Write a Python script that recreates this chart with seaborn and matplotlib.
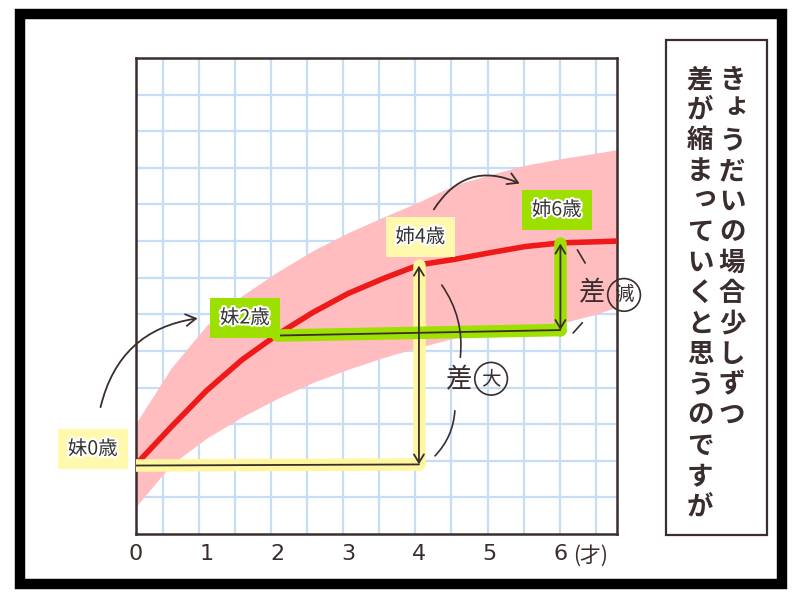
import numpy as np
import matplotlib.pyplot as plt
import matplotlib.patheffects as pe
from matplotlib.patches import Rectangle
import seaborn as sns

sns.set_theme(style="white")
plt.rcParams['font.family'] = ['DejaVu Sans', 'Noto Sans CJK JP']
JP = ['Noto Sans CJK JP', 'DejaVu Sans']

# growth band (age in years, height in grid squares)
ages = [0, 0.5, 1, 1.5, 2, 2.5, 3, 3.5, 4, 4.5, 5, 5.5, 6, 6.5, 6.8]
height_mid = [1.9, 2.93, 3.92, 4.76, 5.45, 6.05, 6.57, 6.98, 7.35, 7.5, 7.68, 7.85, 7.95, 7.98, 8.0]
band_upper = [3.03, 4.54, 5.70, 6.51, 7.16, 7.74, 8.23, 8.66, 9.07, 9.53, 9.81, 10.07, 10.25, 10.4, 10.5]
band_lower = [0.75, 1.9, 2.62, 3.2, 3.7, 4.14, 4.5, 4.82, 5.1, 5.35, 5.5, 5.63, 5.75, 6.0, 6.2]

tick_ages = [0, 1, 2, 3, 4, 5, 6]
tick_labels = ['0', '1', '2', '3', '4', '5', '6']
unit_label = '(才)'

point_labels = ['妹0歳', '妹2歳', '姉4歳', '姉6歳']
point_colors = ['#FFF9AE', '#9DE000', '#FFF9AE', '#9DE000']

caption_right = 'きょうだいの場合少しずつ'
caption_left = '差が縮まっていくと思うのですが'

INK = '#3a2d2d'
YELLOW = '#FFF7A0'
GREEN = '#9EE000'

fig = plt.figure(figsize=(8, 6), dpi=100)
ax = fig.add_axes([136 / 800, 66 / 600, 481 / 800, 476 / 600])

# notebook grid
for gx in np.arange(0.38, 6.8, 0.51):
    ax.axvline(gx, color='#C6DDF3', lw=1.6, zorder=0)
for gy in range(1, 13):
    ax.axhline(gy, color='#C6DDF3', lw=1.6, zorder=0)

ax.fill_between(ages, band_lower, band_upper, color='#FFBDC0', lw=0, zorder=1)
sns.lineplot(x=ages, y=height_mid, color='#EE1A1A', lw=4, ax=ax, zorder=3)

h = dict(zip(ages, height_mid))

# comparison arrows: younger at 0 vs older at 4, younger at 2 vs older at 6
pairs = [(0, 4, YELLOW, 0.0), (2, 6, GREEN, 0.12)]
for a0, a1, col, rise in pairs:
    y0 = h[a0] - 0.03
    y1 = h[a0] + rise
    ax.plot([a0, a1], [y0, y1], color=col, lw=9, solid_capstyle='round', zorder=4)
    ax.plot([a1, a1], [y1, h[a1]], color=col, lw=9, solid_capstyle='round', zorder=4)
    ax.plot([a0, a1], [y0, y1], color=INK, lw=1.3, zorder=5)
    ax.annotate('', xy=(a1, h[a1] - 0.02), xytext=(a1, y1),
                arrowprops=dict(arrowstyle='<->,head_length=0.5,head_width=0.3',
                                color=INK, lw=1.3, shrinkA=0, shrinkB=0), zorder=5)

# age labels
label_pos = [(-0.61, 2.32), (1.54, 5.9), (4.02, 8.11), (5.95, 8.85)]
for txt, (lx, ly), fc in zip(point_labels, label_pos, point_colors):
    ax.text(lx, ly, txt, family=JP, fontsize=14, color='#333', ha='center', va='center',
            zorder=7, clip_on=False,
            bbox=dict(boxstyle='square,pad=0.5', fc=fc, ec='none'),
            path_effects=[pe.withStroke(linewidth=3, foreground='white')])

# hand-drawn style curved arrows between labels
ax.annotate('', xy=(0.91, 5.9), xytext=(-0.51, 3.39), annotation_clip=False,
            arrowprops=dict(arrowstyle='->,head_length=0.6,head_width=0.35', color=INK,
                            lw=1.3, connectionstyle='arc3,rad=-0.35'), zorder=6)
ax.annotate('', xy=(5.46, 9.54), xytext=(4.19, 8.8), annotation_clip=False,
            arrowprops=dict(arrowstyle='->,head_length=0.6,head_width=0.35', color=INK,
                            lw=1.3, connectionstyle='arc3,rad=-0.45'), zorder=6)

# difference notes
ax.text(4.57, 4.21, '差', family=JP, fontsize=19, color=INK, ha='center', va='center', zorder=6)
ax.text(5.02, 4.24, '大', family=JP, fontsize=14, color=INK, ha='center', va='center', zorder=6,
        bbox=dict(boxstyle='circle,pad=0.3', fc='none', ec=INK, lw=1.2))
ax.annotate('', xy=(4.3, 6.86), xytext=(4.58, 4.75),
            arrowprops=dict(arrowstyle='-', color=INK, lw=1.2, connectionstyle='arc3,rad=0.2'), zorder=6)
ax.annotate('', xy=(4.2, 2.08), xytext=(4.51, 3.44),
            arrowprops=dict(arrowstyle='-', color=INK, lw=1.2, connectionstyle='arc3,rad=-0.2'), zorder=6)

ax.text(6.45, 6.6, '差', family=JP, fontsize=19, color=INK, ha='center', va='center',
        zorder=6, clip_on=False)
ax.text(6.9, 6.53, '減', family=JP, fontsize=14, color=INK, ha='center', va='center',
        zorder=6, clip_on=False,
        bbox=dict(boxstyle='circle,pad=0.3', fc='none', ec=INK, lw=1.2))
ax.plot([6.24, 6.35], [7.76, 7.4], color=INK, lw=1.2, zorder=6)
ax.plot([6.31, 6.18], [5.77, 5.49], color=INK, lw=1.2, zorder=6)

ax.set_xlim(0, 6.8)
ax.set_ylim(0, 13)
ax.set_xticks(tick_ages)
ax.set_xticklabels(tick_labels, fontsize=16, color=INK)
ax.set_yticks([])
ax.tick_params(axis='x', length=0, pad=7)
ax.text(6.42, -0.6, unit_label, family=JP, fontsize=15, color=INK, ha='center', va='center',
        clip_on=False)
ax.set_xlabel('')
ax.set_ylabel('')
for s in ax.spines.values():
    s.set_color(INK)
    s.set_linewidth(1.8)
    s.set_visible(True)

# caption box (vertical writing)
fig.patches.append(Rectangle((666 / 800, 1 - 535 / 600), 101 / 800, 495 / 600,
                             transform=fig.transFigure, fill=False, ec=INK, lw=1.6))
small = 'ょっゃゅぁぃぅぇぉ'
for col_x, text in [(732, caption_right), (700, caption_left)]:
    for i, ch in enumerate(text):
        px, py = col_x, 80 + i * 30.5
        if ch in small:
            px, py = px + 4, py - 5
        fig.text(px / 800, 1 - py / 600, ch, family=JP, fontsize=19, fontweight='bold',
                 color=INK, ha='center', va='center')

# comic panel frame
fig.patches.append(Rectangle((20 / 800, 16 / 600), 762 / 800, 570 / 600,
                             transform=fig.transFigure, fill=False, ec='black', lw=7.5))

fig.savefig('out.png', dpi=100)
